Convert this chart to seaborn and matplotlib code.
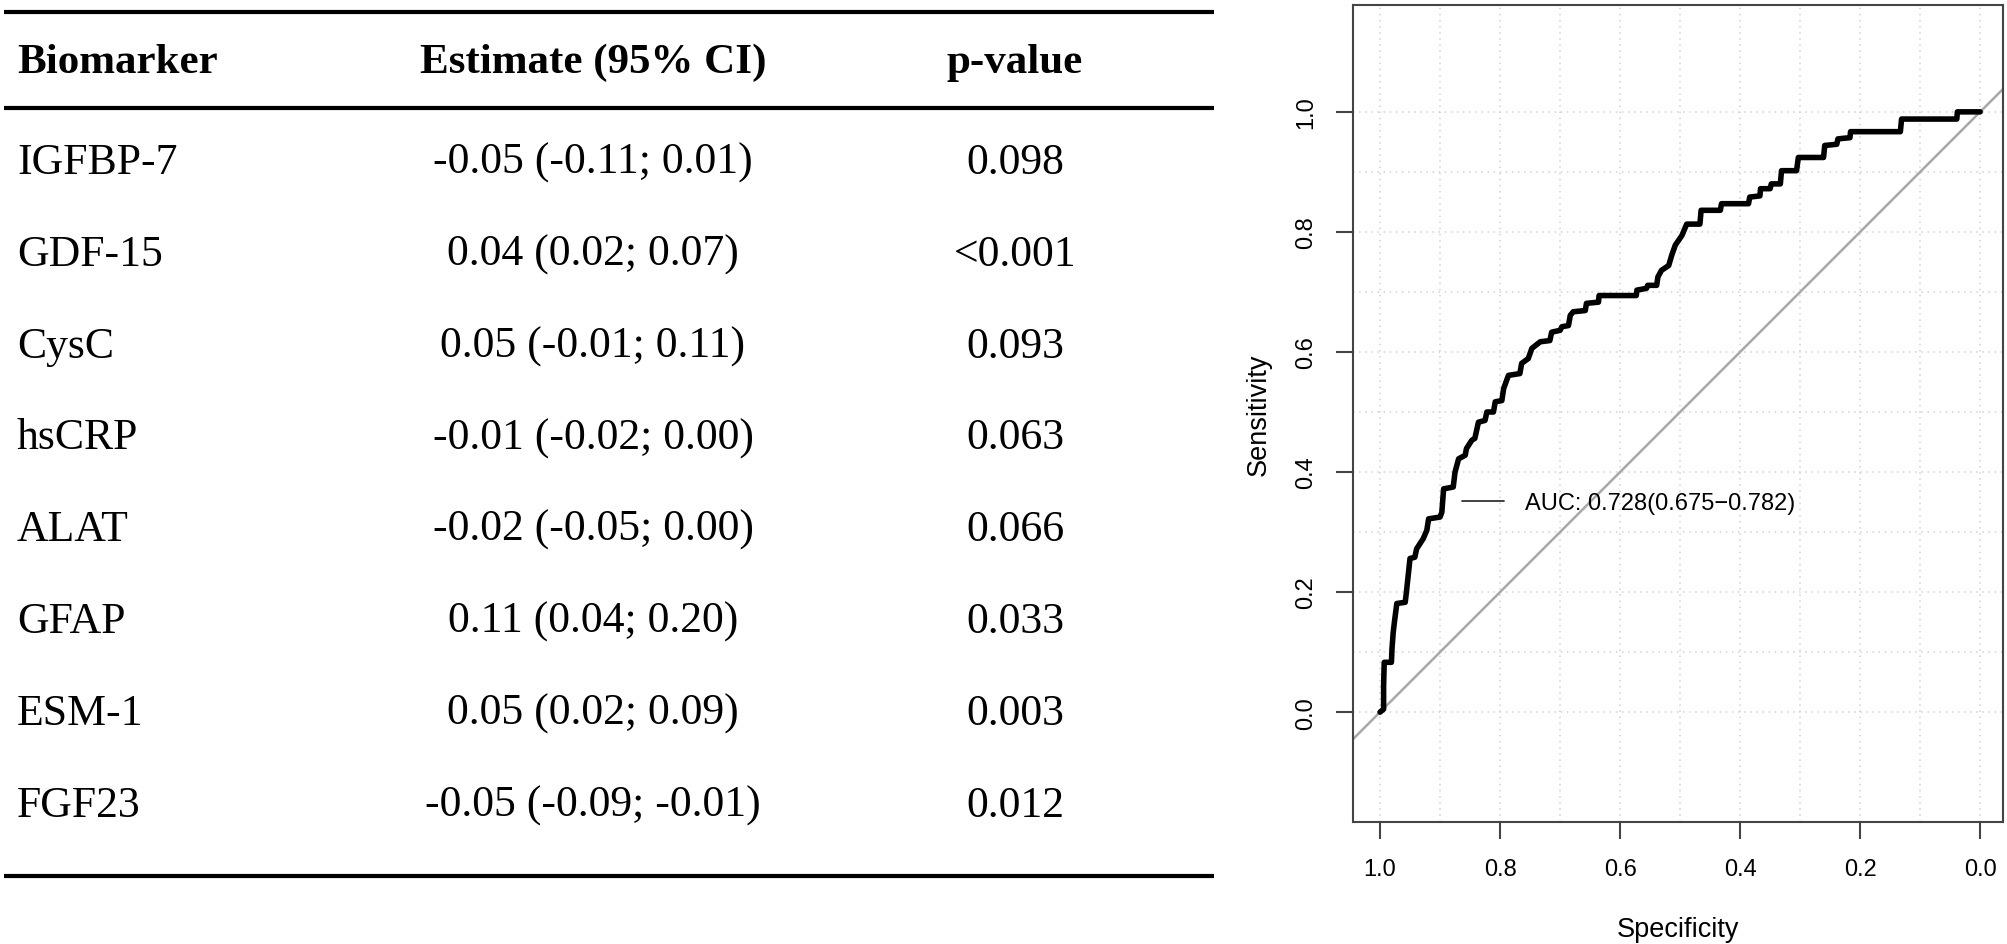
import numpy as np
import pandas as pd
import matplotlib.pyplot as plt
import seaborn as sns
from matplotlib.lines import Line2D

# --- data: regression table ---
headers = ["Biomarker", "Estimate (95% CI)", "p-value"]
biomarkers = ["IGFBP-7", "GDF-15", "CysC", "hsCRP", "ALAT", "GFAP", "ESM-1", "FGF23"]
estimates = ["-0.05 (-0.11; 0.01)", "0.04 (0.02; 0.07)", "0.05 (-0.01; 0.11)",
             "-0.01 (-0.02; 0.00)", "-0.02 (-0.05; 0.00)", "0.11 (0.04; 0.20)",
             "0.05 (0.02; 0.09)", "-0.05 (-0.09; -0.01)"]
p_values = ["0.098", "<0.001", "0.093", "0.063", "0.066", "0.033", "0.003", "0.012"]

# --- data: ROC curve ---
specificity = [1.000, 0.994, 0.994, 0.993, 0.981, 0.980, 0.978, 0.976, 0.972, 0.958,
               0.956, 0.950, 0.942, 0.939, 0.928, 0.922, 0.919, 0.900, 0.897, 0.894,
               0.878, 0.875, 0.872, 0.869, 0.858, 0.856, 0.847, 0.842, 0.836, 0.825,
               0.822, 0.811, 0.808, 0.797, 0.794, 0.786, 0.767, 0.764, 0.753, 0.747,
               0.733, 0.717, 0.714, 0.700, 0.697, 0.686, 0.683, 0.678, 0.658, 0.656,
               0.636, 0.635, 0.573, 0.572, 0.556, 0.554, 0.539, 0.537, 0.531, 0.519,
               0.514, 0.508, 0.497, 0.489, 0.467, 0.465, 0.433, 0.431, 0.386, 0.384,
               0.367, 0.366, 0.350, 0.348, 0.333, 0.331, 0.306, 0.303, 0.261, 0.259,
               0.239, 0.237, 0.217, 0.216, 0.133, 0.131, 0.039, 0.038, 0.000]
sensitivity = [0.000, 0.005, 0.044, 0.083, 0.083, 0.106, 0.133, 0.150, 0.181, 0.183,
               0.200, 0.256, 0.258, 0.272, 0.289, 0.303, 0.322, 0.325, 0.333, 0.372,
               0.375, 0.400, 0.411, 0.422, 0.428, 0.439, 0.453, 0.456, 0.483, 0.486,
               0.500, 0.500, 0.517, 0.519, 0.539, 0.561, 0.564, 0.581, 0.589, 0.606,
               0.617, 0.619, 0.633, 0.636, 0.642, 0.644, 0.661, 0.667, 0.669, 0.681,
               0.683, 0.694, 0.694, 0.703, 0.706, 0.711, 0.711, 0.725, 0.736, 0.744,
               0.761, 0.778, 0.794, 0.813, 0.813, 0.836, 0.836, 0.847, 0.847, 0.858,
               0.860, 0.872, 0.872, 0.880, 0.880, 0.902, 0.902, 0.924, 0.924, 0.944,
               0.946, 0.955, 0.957, 0.967, 0.967, 0.988, 0.988, 1.000, 1.000]
auc_label = "AUC: 0.728(0.675\u22120.782)"
axis_ticks = [0.0, 0.2, 0.4, 0.6, 0.8, 1.0]

sns.set_theme(style="white")
plt.rcParams['font.family'] = ['Liberation Sans', 'DejaVu Sans']
plt.rcParams['text.color'] = 'black'
plt.rcParams['axes.labelcolor'] = 'black'
plt.rcParams['xtick.labelcolor'] = 'black'
plt.rcParams['ytick.labelcolor'] = 'black'

W, H = 2008, 945
fig = plt.figure(figsize=(W / 100, H / 100), dpi=100)

# --- left: table, drawn in pixel coordinates ---
tab = fig.add_axes([0, 0, 1, 1])
tab.set_xlim(0, W)
tab.set_ylim(H, 0)
tab.axis('off')

serif = ['Liberation Serif', 'DejaVu Serif']
fs = 31.5
rule_x = [4, 1214]
for ry in [13, 109, 877]:
    tab.plot(rule_x, [ry, ry], color='black', lw=3, solid_capstyle='butt')

col_x = [17, 593, 1015]
col_ha = ['left', 'center', 'center']
for x, ha, h in zip(col_x, col_ha, headers):
    tab.text(x, 63, h, ha=ha, va='center', fontsize=31, fontweight='bold', family=serif)

row0, step = 163, 91.8
for i, (b, e, p) in enumerate(zip(biomarkers, estimates, p_values)):
    y = row0 + i * step
    for x, ha, t in zip(col_x, col_ha, [b, e, p]):
        tab.text(x, y, t, ha=ha, va='center', fontsize=fs, family=serif)

# --- right: ROC curve ---
ax = fig.add_axes([1353 / W, 1 - 823 / H, 650 / W, 817 / H])
roc = pd.DataFrame({'spec': specificity, 'sens': sensitivity})

grid_vals = np.round(np.arange(0, 1.01, 0.1), 1)
ax.set_xticks(grid_vals, minor=True)
ax.set_yticks(grid_vals, minor=True)
ax.grid(which='both', color='#d2d2d2', linestyle=(0, (1, 3)), lw=1.1)

ax.axline((0, 1), (1, 0), color='#a8a8a8', lw=1.8, zorder=2)
sns.lineplot(data=roc, x='spec', y='sens', sort=False, estimator=None,
             color='black', linewidth=4, ax=ax, zorder=3)

ax.set_xlim(1.045, -0.038)
ax.set_ylim(-0.183, 1.178)
ax.set_xticks(axis_ticks)
ax.set_yticks(axis_ticks)
ax.set_xticklabels([f"{t:.1f}" for t in axis_ticks])
ax.set_yticklabels([f"{t:.1f}" for t in axis_ticks], rotation=90, va='center')
ax.tick_params(which='major', direction='out', length=12, width=1.5, color='#444444',
               labelsize=17, pad=14, left=True, bottom=True)
ax.tick_params(which='minor', length=0)
for s in ax.spines.values():
    s.set_color('#444444')
    s.set_linewidth(1.5)

ax.set_xlabel('Specificity', fontsize=19.5, labelpad=26)
ax.set_ylabel('Sensitivity', fontsize=19.5, labelpad=17)

handle = Line2D([], [], color='#333333', lw=1.3)
ax.legend([handle], [auc_label], loc='center left', bbox_to_anchor=(0.168, 0.39),
          frameon=False, borderpad=0, borderaxespad=0, handlelength=1.78,
          handletextpad=0.88, fontsize=17)

fig.savefig('out.png', dpi=100)
